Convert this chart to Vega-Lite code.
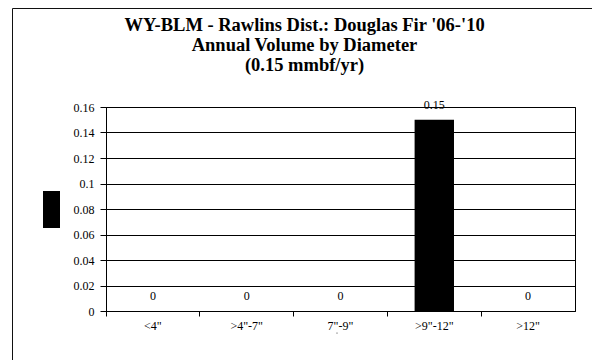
{
  "$schema": "https://vega.github.io/schema/vega-lite/v6.json",
  "width": 469,
  "height": 204,
  "autosize": "none",
  "padding": {"left": 106, "top": 107, "right": 17, "bottom": 49},
  "background": "white",
  "title": {
    "text": ["WY-BLM - Rawlins Dist.: Douglas Fir '06-'10", "Annual Volume by Diameter", "(0.15 mmbf/yr)"],
    "font": "Liberation Serif",
    "fontSize": 18.5,
    "fontWeight": "bold",
    "color": "black",
    "lineHeight": 20,
    "anchor": "middle",
    "frame": "group",
    "dx": -36,
    "offset": -67
  },
  "data": {
    "values": [
      {"diameter": "<4\"", "volume": 0, "series": "Volume"},
      {"diameter": ">4\"-7\"", "volume": 0, "series": "Volume"},
      {"diameter": "7\"-9\"", "volume": 0, "series": "Volume"},
      {"diameter": ">9\"-12\"", "volume": 0.15, "series": "Volume"},
      {"diameter": ">12\"", "volume": 0, "series": "Volume"}
    ]
  },
  "encoding": {
    "x": {
      "field": "diameter",
      "type": "nominal",
      "sort": null,
      "scale": {"paddingInner": 0, "paddingOuter": 0},
      "axis": {
        "title": null,
        "labelAngle": 0,
        "bandPosition": 0,
        "labelPadding": 4,
        "tickSize": 5,
        "grid": false
      }
    },
    "y": {
      "field": "volume",
      "type": "quantitative",
      "scale": {"domain": [0, 0.16], "nice": false},
      "axis": {
        "title": null,
        "values": [0, 0.02, 0.04, 0.06, 0.08, 0.1, 0.12, 0.14, 0.16],
        "format": ".2~f",
        "labelPadding": 6,
        "tickSize": 6,
        "gridColor": "black",
        "gridOpacity": 1
      }
    }
  },
  "layer": [
    {
      "mark": {"type": "bar", "width": {"band": 0.42}},
      "encoding": {
        "color": {
          "field": "series",
          "type": "nominal",
          "scale": {"range": ["black"]},
          "legend": {
            "title": null,
            "orient": "none",
            "legendX": -73,
            "legendY": 84,
            "padding": 0,
            "labelExpr": "''",
            "symbolType": "M-0.46,-1L0.46,-1L0.46,1L-0.46,1Z",
            "symbolSize": 1369,
            "symbolStrokeWidth": 0,
            "symbolOpacity": 1
          }
        }
      }
    },
    {
      "mark": {
        "type": "text",
        "baseline": "bottom",
        "dy": -8,
        "font": "Liberation Serif",
        "fontSize": 12,
        "fill": "black"
      },
      "encoding": {
        "text": {"field": "volume", "type": "quantitative", "format": ".2~f"},
        "opacity": {
          "field": "series",
          "type": "nominal",
          "scale": {"range": [1, 1]},
          "legend": {
            "title": null,
            "orient": "none",
            "legendX": -94,
            "legendY": -99,
            "padding": 320,
            "labelExpr": "''",
            "symbolOpacity": 0,
            "symbolSize": 1,
            "symbolStrokeWidth": 0,
            "strokeColor": "#111111"
          }
        }
      }
    }
  ],
  "config": {
    "font": "Liberation Serif",
    "view": {"stroke": "black", "strokeWidth": 1},
    "axis": {
      "labelFont": "Liberation Serif",
      "labelFontSize": 12,
      "labelColor": "black",
      "tickColor": "black",
      "domainColor": "black"
    }
  }
}
